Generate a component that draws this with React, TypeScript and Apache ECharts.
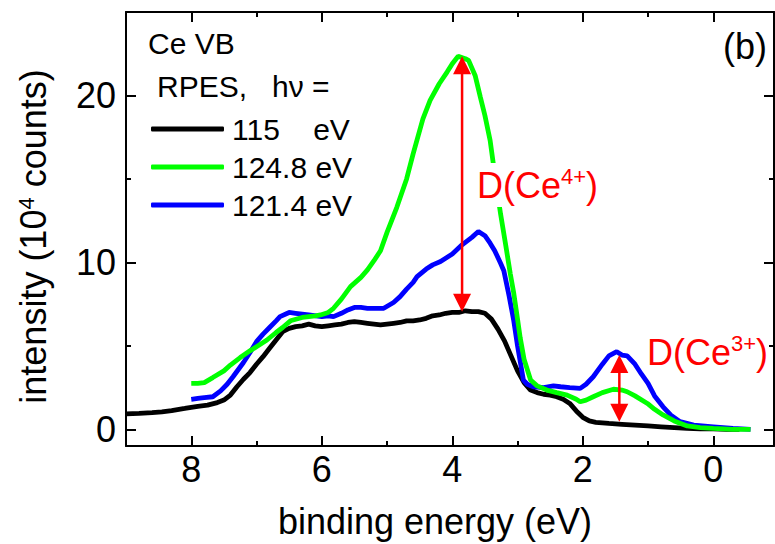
import React, { useEffect, useRef } from "react";
import * as echarts from "echarts";

const FONT = "'Liberation Sans', Arial, sans-serif";

// binding energy (eV), intensity (10^4 counts)
const black115: [number, number][] = [
  [9.0, 0.92], [8.8, 0.95], [8.6, 1.0], [8.45, 1.05], [8.3, 1.12], [8.1, 1.25], [8.0, 1.32], [7.9, 1.38],
  [7.75, 1.45], [7.6, 1.6], [7.5, 1.75], [7.4, 2.05], [7.3, 2.55], [7.2, 3.0], [7.1, 3.4], [7.0, 3.9],
  [6.9, 4.35], [6.8, 4.85], [6.7, 5.35], [6.6, 5.85], [6.5, 6.05], [6.4, 6.15], [6.3, 6.2], [6.2, 6.3],
  [6.1, 6.2], [6.0, 6.15], [5.9, 6.2], [5.8, 6.25], [5.7, 6.3], [5.6, 6.4], [5.5, 6.45], [5.4, 6.4],
  [5.3, 6.35], [5.2, 6.3], [5.1, 6.25], [5.0, 6.3], [4.9, 6.35], [4.8, 6.4], [4.7, 6.5], [4.6, 6.5],
  [4.5, 6.55], [4.4, 6.65], [4.3, 6.8], [4.2, 6.85], [4.1, 6.95], [4.0, 7.0], [3.9, 7.0], [3.8, 7.1],
  [3.7, 7.05], [3.6, 7.05], [3.5, 6.95], [3.4, 6.6], [3.3, 6.0], [3.2, 5.3], [3.1, 4.4], [3.0, 3.5],
  [2.9, 2.8], [2.8, 2.35], [2.7, 2.2], [2.6, 2.1], [2.5, 2.05], [2.4, 1.95], [2.3, 1.8], [2.2, 1.55],
  [2.1, 1.1], [2.0, 0.72], [1.9, 0.5], [1.8, 0.42], [1.6, 0.35], [1.4, 0.3], [1.2, 0.25], [1.0, 0.2],
  [0.8, 0.15], [0.6, 0.1], [0.4, 0.05], [0.2, 0.03], [0.0, 0.02], [-0.2, 0.0], [-0.4, 0.0],
];

const blue1214: [number, number][] = [
  [8.0, 1.8], [7.9, 1.85], [7.8, 1.9], [7.67, 1.95], [7.55, 2.3], [7.45, 2.7], [7.36, 3.15], [7.2, 4.0],
  [7.1, 4.6], [7.0, 5.25], [6.9, 5.7], [6.8, 6.1], [6.7, 6.5], [6.64, 6.75], [6.5, 7.0], [6.4, 6.95],
  [6.3, 6.9], [6.2, 6.85], [6.0, 6.75], [5.9, 6.8], [5.82, 6.75], [5.7, 6.95], [5.6, 7.15], [5.5, 7.3],
  [5.4, 7.3], [5.3, 7.25], [5.2, 7.25], [5.05, 7.25], [4.9, 7.6], [4.8, 7.95], [4.7, 8.4], [4.6, 8.8],
  [4.54, 9.15], [4.4, 9.6], [4.3, 9.85], [4.18, 10.05], [4.0, 10.5], [3.85, 11.05], [3.7, 11.5],
  [3.6, 11.85], [3.5, 11.6], [3.42, 11.15], [3.35, 10.7], [3.26, 9.95], [3.21, 9.5], [3.13, 8.0],
  [3.06, 6.55], [3.0, 5.0], [2.91, 2.95], [2.85, 2.7], [2.76, 2.55], [2.6, 2.5], [2.45, 2.6], [2.34, 2.55],
  [2.2, 2.5], [2.04, 2.45], [1.95, 2.7], [1.84, 3.15], [1.7, 3.9], [1.6, 4.4], [1.48, 4.65], [1.4, 4.45],
  [1.32, 4.4], [1.2, 3.9], [1.1, 3.3], [1.0, 2.75], [0.9, 2.0], [0.77, 1.35], [0.65, 0.85], [0.51, 0.46],
  [0.3, 0.25], [0.0, 0.15], [-0.3, 0.05], [-0.57, 0.0],
];

const green1248: [number, number][] = [
  [8.0, 2.75], [7.9, 2.75], [7.8, 2.8], [7.67, 3.1], [7.5, 3.5], [7.4, 3.85], [7.25, 4.3], [7.1, 4.7],
  [7.0, 4.95], [6.84, 5.35], [6.7, 5.8], [6.6, 6.1], [6.48, 6.5], [6.3, 6.7], [6.1, 6.8], [6.02, 6.85],
  [5.9, 7.0], [5.82, 7.25], [5.7, 7.8], [5.56, 8.55], [5.4, 9.1], [5.3, 9.55], [5.2, 10.1], [5.1, 10.7],
  [5.0, 11.8], [4.85, 13.3], [4.7, 15.0], [4.6, 16.5], [4.45, 18.6], [4.34, 19.7], [4.2, 20.7],
  [4.08, 21.4], [4.0, 21.9], [3.91, 22.35], [3.8, 22.2], [3.75, 22.1], [3.65, 21.2], [3.57, 19.9],
  [3.5, 18.8], [3.42, 17.3], [3.35, 15.3], [3.26, 12.9], [3.18, 11.0], [3.11, 9.3], [3.06, 8.2],
  [3.0, 6.6], [2.96, 5.5], [2.9, 4.2], [2.8, 2.95], [2.7, 2.6], [2.55, 2.35], [2.4, 2.2], [2.24, 2.05],
  [2.1, 1.8], [2.04, 1.65], [1.95, 1.75], [1.84, 1.95], [1.7, 2.2], [1.53, 2.4], [1.4, 2.35],
  [1.32, 2.25], [1.2, 2.0], [1.01, 1.55], [0.9, 1.2], [0.77, 0.86], [0.6, 0.5], [0.4, 0.2], [0.2, 0.1],
  [0.0, 0.05], [-0.3, 0.0], [-0.57, 0.0],
];

// double arrows: [energy, top value, bottom value]
const arrows: [number, number, number][] = [
  [3.85, 22.35, 7.05],
  [1.44, 4.45, 0.45],
];

const xMajor = [0, 2, 4, 6, 8];
const xMinor = [1, 3, 5, 7];
const yMajor = [0, 10, 20];
const yMinor = [5, 15];

const seriesNames = ["115    eV", "124.8 eV", "121.4 eV"];

export default function App() {
  const ref = useRef<HTMLDivElement>(null);
  useEffect(() => {
    if (!ref.current) return;
    const chart = echarts.init(ref.current, undefined, { renderer: "svg" });
    const axisLineStyle = { color: "#000", width: 2 };
    const xBase = { type: "value", min: -0.93, max: 9, inverse: true, splitLine: { show: false } };
    const yBase = { type: "value", min: -1, max: 25, splitLine: { show: false } };
    const majorTick = (vals: number[]) => ({
      show: true, inside: true, length: 10, customValues: vals, lineStyle: { color: "#000", width: 2 },
    });
    const minorTick = (vals: number[]) => ({
      show: true, inside: true, length: 5, customValues: vals, lineStyle: { color: "#000", width: 2 },
    });
    const lineOn = { show: true, onZero: false, lineStyle: axisLineStyle };
    const lineOff = { show: false, onZero: false };
    const option: any = {
      animation: false,
      backgroundColor: "#fff",
      grid: { left: 126, right: 1, top: 12, bottom: 97, containLabel: false },
      xAxis: [
        {
          ...xBase, position: "bottom",
          axisLine: lineOn,
          axisTick: majorTick(xMajor),
          axisLabel: { show: true, customValues: xMajor, fontSize: 36, color: "#000", fontFamily: FONT, margin: 5 },
          name: "binding energy (eV)", nameLocation: "middle", nameGap: 57,
          nameTextStyle: { fontSize: 36, color: "#000", fontFamily: FONT, padding: [0, 30, 0, 0] },
        },
        { ...xBase, position: "bottom", axisLine: lineOff, axisTick: minorTick(xMinor), axisLabel: { show: false } },
        { ...xBase, position: "top", axisLine: lineOn, axisTick: majorTick(xMajor), axisLabel: { show: false } },
        { ...xBase, position: "top", axisLine: lineOff, axisTick: minorTick(xMinor), axisLabel: { show: false } },
      ],
      yAxis: [
        {
          ...yBase, position: "left",
          axisLine: lineOn,
          axisTick: majorTick(yMajor),
          axisLabel: { show: true, customValues: yMajor, fontSize: 36, color: "#000", fontFamily: FONT, margin: 10 },
          name: "intensity (10{sup|4} counts)", nameLocation: "middle", nameGap: 75,
          nameTextStyle: {
            fontSize: 36, color: "#000", fontFamily: FONT, padding: [0, 15, 0, 0],
            rich: { sup: { fontSize: 22, color: "#000", fontFamily: FONT, verticalAlign: "top", lineHeight: 36 } },
          },
        },
        { ...yBase, position: "left", axisLine: lineOff, axisTick: minorTick(yMinor), axisLabel: { show: false } },
        { ...yBase, position: "right", axisLine: lineOn, axisTick: majorTick(yMajor), axisLabel: { show: false } },
        { ...yBase, position: "right", axisLine: lineOff, axisTick: minorTick(yMinor), axisLabel: { show: false } },
      ],
      legend: {
        orient: "vertical", left: 146, top: 109, itemWidth: 73, itemHeight: 5, itemGap: 8,
        icon: "roundRect",
        data: [seriesNames[0], seriesNames[1], seriesNames[2]],
        textStyle: { fontSize: 30, lineHeight: 30, color: "#000", fontFamily: FONT, padding: [0, 0, 0, 3] },
      },
      series: [
        {
          name: seriesNames[0], type: "line", data: black115, showSymbol: false, symbol: "none",
          lineStyle: { color: "#000", width: 4.8 }, itemStyle: { color: "#000" }, z: 2,
        },
        {
          name: seriesNames[2], type: "line", data: blue1214, showSymbol: false, symbol: "none",
          lineStyle: { color: "#0000ff", width: 4.8 }, itemStyle: { color: "#0000ff" }, z: 3,
        },
        {
          name: seriesNames[1], type: "line", data: green1248, showSymbol: false, symbol: "none",
          lineStyle: { color: "#00ff00", width: 4.8 }, itemStyle: { color: "#00ff00" }, z: 4,
        },
        {
          type: "custom", silent: true, z: 5,
          data: arrows,
          renderItem: (params: any, api: any) => {
            const x = api.value(0);
            const p1 = api.coord([x, api.value(1)]);
            const p2 = api.coord([x, api.value(2)]);
            const w = 18, h = 18;
            return {
              type: "group",
              children: [
                { type: "line", shape: { x1: p1[0], y1: p1[1] + h - 1, x2: p2[0], y2: p2[1] - h + 1 }, style: { stroke: "#ff0000", lineWidth: 2.5 } },
                { type: "polygon", shape: { points: [[p1[0], p1[1]], [p1[0] - w / 2, p1[1] + h], [p1[0] + w / 2, p1[1] + h]] }, style: { fill: "#ff0000" } },
                { type: "polygon", shape: { points: [[p2[0], p2[1]], [p2[0] - w / 2, p2[1] - h], [p2[0] + w / 2, p2[1] - h]] }, style: { fill: "#ff0000" } },
              ],
            };
          },
        },
      ],
      graphic: [
        { type: "text", left: 148, top: 28, z: 100, style: { text: "Ce VB", fontSize: 30, fontFamily: FONT, fill: "#000" } },
        { type: "text", left: 157, top: 71, z: 100, style: { text: "RPES,   hν =", fontSize: 30, fontFamily: FONT, fill: "#000" } },
        { type: "text", left: 723, top: 28, z: 100, style: { text: "(b)", fontSize: 36, fontFamily: FONT, fill: "#000" } },
        {
          type: "text", left: 475, top: 163, z: 100,
          style: {
            text: "{a|D(Ce}{s|4+}{a|)}", backgroundColor: "#fff", padding: [2, 2, 2, 2],
            rich: {
              a: { fontSize: 36, fontFamily: FONT, fill: "#ff0000", color: "#ff0000", lineHeight: 40 },
              s: { fontSize: 22, fontFamily: FONT, fill: "#ff0000", color: "#ff0000", verticalAlign: "top", lineHeight: 40 },
            },
          },
        },
        {
          type: "text", left: 647, top: 332, z: 100,
          style: {
            text: "{a|D(Ce}{s|3+}{a|)}", padding: [2, 2, 2, 2],
            rich: {
              a: { fontSize: 36, fontFamily: FONT, fill: "#ff0000", color: "#ff0000", lineHeight: 40 },
              s: { fontSize: 22, fontFamily: FONT, fill: "#ff0000", color: "#ff0000", verticalAlign: "top", lineHeight: 40 },
            },
          },
        },
      ],
    };
    chart.setOption(option);
    return () => chart.dispose();
  }, []);
  return <div ref={ref} style={{ width: 775, height: 544, position: "absolute", left: 0, top: 0 }} />;
}
